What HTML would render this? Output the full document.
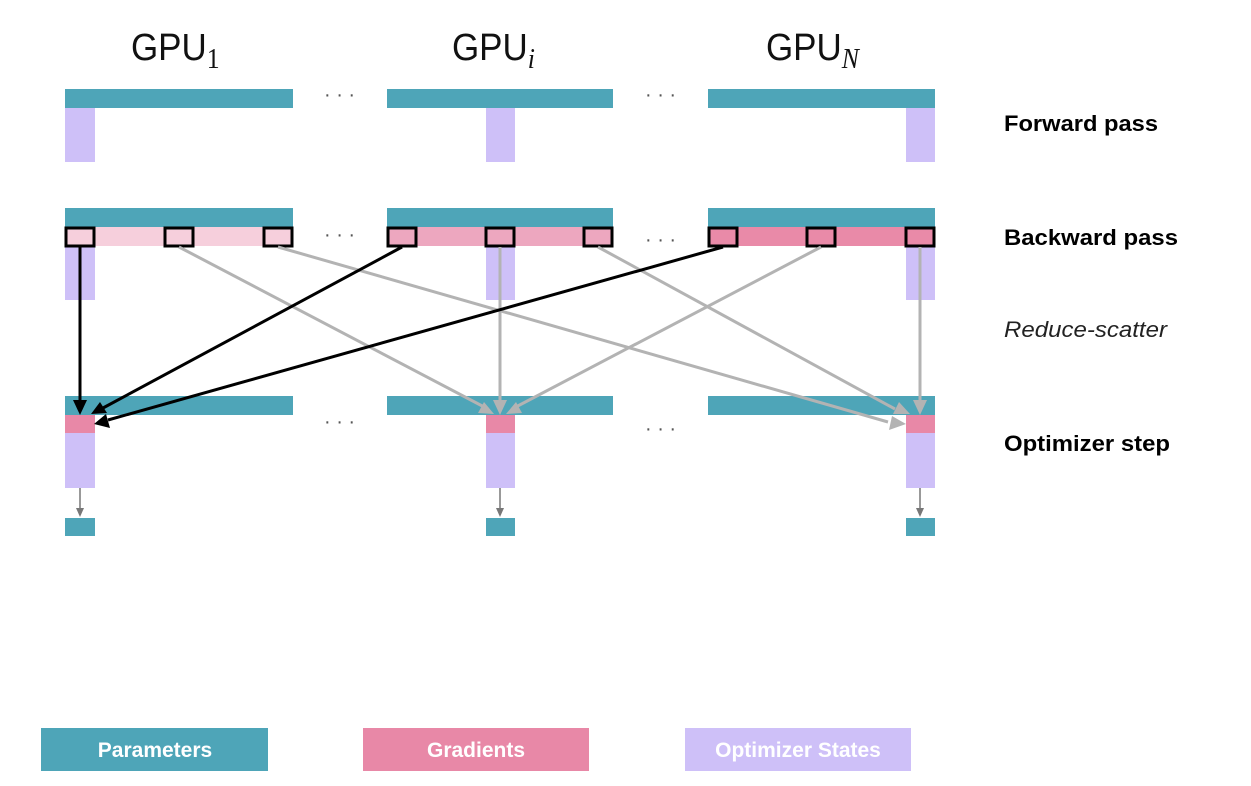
<!DOCTYPE html>
<html><head><meta charset="utf-8"><style>
html,body{margin:0;padding:0;background:#fff;}
svg{display:block}
</style></head><body>
<svg width="1251" height="786" viewBox="0 0 1251 786" xmlns="http://www.w3.org/2000/svg">
<g font-family="'Liberation Sans',sans-serif" font-size="38" fill="#111">
<text transform="translate(131,60) scale(0.92,1)">GPU<tspan font-family="'Liberation Serif',serif" font-size="28" dy="8">1</tspan></text>
<text transform="translate(452,60) scale(0.92,1)">GPU<tspan font-family="'Liberation Serif',serif" font-style="italic" font-size="28" dy="8">i</tspan></text>
<text transform="translate(766,60) scale(0.92,1)">GPU<tspan font-family="'Liberation Serif',serif" font-style="italic" font-size="28" dy="8">N</tspan></text>
</g>
<g fill="#555" font-family="'Liberation Sans',sans-serif" font-size="20">
<text x="324" y="101">· · ·</text><text x="645" y="101">· · ·</text>
<text x="324" y="241">· · ·</text><text x="645" y="246">· · ·</text>
<text x="324" y="428">· · ·</text><text x="645" y="435">· · ·</text>
</g>
<!-- forward -->
<rect x="65" y="89" width="228" height="19" fill="#4ea5b8"/>
<rect x="387" y="89" width="226" height="19" fill="#4ea5b8"/>
<rect x="708" y="89" width="227" height="19" fill="#4ea5b8"/>
<rect x="65" y="108" width="30" height="54" fill="#cec0f8"/>
<rect x="486" y="108" width="29" height="54" fill="#cec0f8"/>
<rect x="906" y="108" width="29" height="54" fill="#cec0f8"/>
<!-- backward -->
<rect x="65" y="208" width="228" height="19" fill="#4ea5b8"/>
<rect x="387" y="208" width="226" height="19" fill="#4ea5b8"/>
<rect x="708" y="208" width="227" height="19" fill="#4ea5b8"/>
<rect x="65" y="227" width="228" height="19" fill="#f6cfdc"/>
<rect x="387" y="227" width="226" height="19" fill="#eda7bf"/>
<rect x="708" y="227" width="227" height="19" fill="#e98aa8"/>
<rect x="65" y="246" width="30" height="54" fill="#cec0f8"/>
<rect x="486" y="246" width="29" height="54" fill="#cec0f8"/>
<rect x="906" y="246" width="29" height="54" fill="#cec0f8"/>
<g fill="none" stroke="#000" stroke-width="3">
<rect x="66" y="228" width="28" height="18"/><rect x="165" y="228" width="28" height="18"/><rect x="264" y="228" width="28" height="18"/>
<rect x="388" y="228" width="28" height="18"/><rect x="486" y="228" width="28" height="18"/><rect x="584" y="228" width="28" height="18"/>
<rect x="709" y="228" width="28" height="18"/><rect x="807" y="228" width="28" height="18"/><rect x="906" y="228" width="28" height="18"/>
</g>
<!-- optimizer -->
<rect x="65" y="396" width="228" height="19" fill="#4ea5b8"/>
<rect x="387" y="396" width="226" height="19" fill="#4ea5b8"/>
<rect x="708" y="396" width="227" height="19" fill="#4ea5b8"/>
<rect x="65" y="415" width="30" height="18" fill="#e888a7"/>
<rect x="486" y="415" width="29" height="18" fill="#e888a7"/>
<rect x="906" y="415" width="29" height="18" fill="#e888a7"/>
<rect x="65" y="433" width="30" height="55" fill="#cec0f8"/>
<rect x="486" y="433" width="29" height="55" fill="#cec0f8"/>
<rect x="906" y="433" width="29" height="55" fill="#cec0f8"/>
<rect x="65" y="518" width="30" height="18" fill="#4ea5b8"/>
<rect x="486" y="518" width="29" height="18" fill="#4ea5b8"/>
<rect x="906" y="518" width="29" height="18" fill="#4ea5b8"/>
<g stroke="#777" stroke-width="1.5">
<line x1="80" y1="488" x2="80" y2="512"/><line x1="500" y1="488" x2="500" y2="512"/><line x1="920" y1="488" x2="920" y2="512"/>
</g>
<g fill="#777">
<path d="M76,508 L84,508 L80,517 z"/><path d="M496,508 L504,508 L500,517 z"/><path d="M916,508 L924,508 L920,517 z"/>
</g>
<!-- gray arrows -->
<g stroke="#b3b3b3" stroke-width="3" fill="none">
<line x1="179" y1="247" x2="488" y2="409"/>
<line x1="278" y1="247" x2="888" y2="422"/>
<line x1="500" y1="247" x2="500" y2="402"/>
<line x1="598" y1="247" x2="895" y2="409"/>
<line x1="821" y1="247" x2="512" y2="409"/>
<line x1="920" y1="247" x2="920" y2="402"/>
</g>
<g fill="#b3b3b3">
<path d="M494,414 L478,413 L484,402 z"/>
<path d="M500,415 L493,400 L507,400 z"/>
<path d="M506,414 L516,402 L522,413 z"/>
<path d="M906,424 L889,430 L892,416 z"/>
<path d="M910,414 L893,414 L899,402 z"/>
<path d="M920,415 L913,400 L927,400 z"/>
</g>
<!-- black arrows -->
<g stroke="#000" stroke-width="3" fill="none">
<line x1="80" y1="247" x2="80" y2="402"/>
<line x1="402" y1="247" x2="103" y2="408"/>
<line x1="723" y1="247" x2="108" y2="420"/>
</g>
<g fill="#000">
<path d="M80,415 L73,400 L87,400 z"/>
<path d="M91,414 L100,402 L107,413 z"/>
<path d="M94,424 L106,414 L110,428 z"/>
</g>
<!-- labels -->
<g font-family="'Liberation Sans',sans-serif" font-size="22" fill="#000">
<text x="1004" y="131" font-weight="bold" textLength="154" lengthAdjust="spacingAndGlyphs">Forward pass</text>
<text x="1004" y="245" font-weight="bold" textLength="174" lengthAdjust="spacingAndGlyphs">Backward pass</text>
<text x="1004" y="337" font-style="italic" fill="#222" textLength="163" lengthAdjust="spacingAndGlyphs">Reduce-scatter</text>
<text x="1004" y="451" font-weight="bold" textLength="166" lengthAdjust="spacingAndGlyphs">Optimizer step</text>
</g>
<!-- legend -->
<rect x="41" y="728" width="227" height="43" fill="#4ea5b8"/>
<rect x="363" y="728" width="226" height="43" fill="#e888a7"/>
<rect x="685" y="728" width="226" height="43" fill="#cec0f8"/>
<g font-family="'Liberation Sans',sans-serif" font-size="21" font-weight="bold" fill="#fff" text-anchor="middle">
<text x="155" y="757">Parameters</text>
<text x="476" y="757">Gradients</text>
<text x="798" y="757">Optimizer States</text>
</g>
</svg>
</body></html>
